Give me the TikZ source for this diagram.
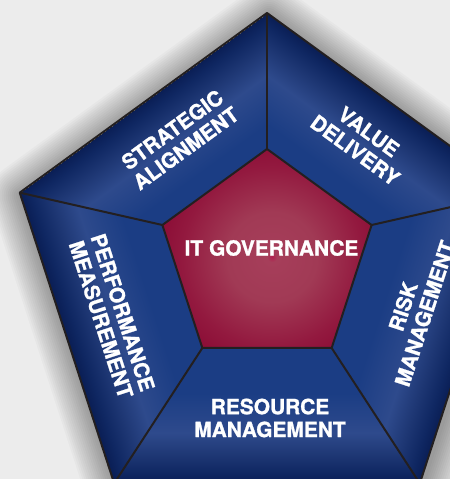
\documentclass[tikz,border=0pt]{standalone}
\usepackage{fontspec}
\setmainfont{TeX Gyre Heros}[BoldFeatures={FakeBold=1.2}]
\usetikzlibrary{calc}
\definecolor{bgc}{HTML}{ECECEC}
\definecolor{segA}{HTML}{1B3D84}
\definecolor{segB}{HTML}{2E4A8C}
\definecolor{segC}{HTML}{1E3774}
\definecolor{segD}{HTML}{0F2762}
\definecolor{segE}{HTML}{0A1E55}
\definecolor{rA}{HTML}{B0204F}
\definecolor{rB}{HTML}{A63E5A}
\definecolor{rC}{HTML}{A13A55}
\definecolor{rD}{HTML}{93193F}
\definecolor{rE}{HTML}{880832}
\definecolor{edgec}{HTML}{231F20}
\pgfdeclareverticalshading{segshade}{600bp}{color(0bp)=(segA); color(60bp)=(segA); color(100bp)=(segB); color(122bp)=(segC); color(140bp)=(segD); color(150bp)=(segE)}
\pgfdeclareradialshading{redshade}{\pgfpoint{0bp}{0bp}}{color(0bp)=(rA); color(5bp)=(rB); color(45bp)=(rC); color(90bp)=(rD); color(125bp)=(rE)}
\begin{document}
\begin{tikzpicture}[x=1bp,y=1bp, line join=round,
  lbl/.style={text=white, font=\fontsize{21}{23}\selectfont\bfseries, align=center, inner sep=0pt},
  outline/.style={draw=edgec, line width=2bp}]
\useasboundingbox (0,0) rectangle (450,479);
\fill[bgc] (0,0) rectangle (450,479);
\coordinate (O) at (267,206);
\coordinate (I) at (267,220);
\foreach \n/\a in {1/90,2/162,3/234,4/306,5/18}{
  \coordinate (o\n) at ($(O)+(\a:260)$);
  \coordinate (i\n) at ($(I)+(\a:110)$);
}
% soft shadow
\foreach \w in {4,8,...,64}
  \draw[black, opacity=0.025, line width=\w bp]
    ([shift={(2,-3)}]o1)--([shift={(2,-3)}]o2)--([shift={(2,-3)}]o3)--([shift={(2,-3)}]o4)--([shift={(2,-3)}]o5)--cycle;
% blue segments
\foreach \p/\q/\nr in {1/2/126,2/3/198,3/4/270,4/5/342,5/1/54}{
  \begin{scope}
    \clip (o\p)--(o\q)--(i\q)--(i\p)--cycle;
    \node[inner sep=0pt, outer sep=0pt, rotate=\nr-90] at ($(O)+(\nr:135)$) {\pgfuseshading{segshade}};
  \end{scope}
}
% red centre
\begin{scope}
  \clip (i1)--(i2)--(i3)--(i4)--(i5)--cycle;
  \node[inner sep=0pt, outer sep=0pt] at (272,222) {\pgfuseshading{redshade}};
\end{scope}
% outlines
\draw[outline] (o1)--(o2)--(o3)--(o4)--(o5)--cycle;
\draw[outline] (i1)--(i2)--(i3)--(i4)--(i5)--cycle;
\foreach \n in {1,...,5} \draw[outline] (i\n)--(o\n);
% labels
\node[lbl] (itg) at (271.5,231) {IT GOVERNANCE};
\node[lbl, rotate=36] (sa) at (179,340) {STRATEGIC\\ALIGNMENT};
\node[lbl, rotate=-36] (vd) at (362,338) {VALUE\\DELIVERY};
\node[lbl, rotate=72] (rk) at (414,169) {RISK\\MANAGEMENT};
\node[lbl, rotate=-72] (pm) at (112,163) {PERFORMANCE\\MEASUREMENT};
\node[lbl] (rm) at (270,61) {RESOURCE\\MANAGEMENT};
\end{tikzpicture}
\end{document}
